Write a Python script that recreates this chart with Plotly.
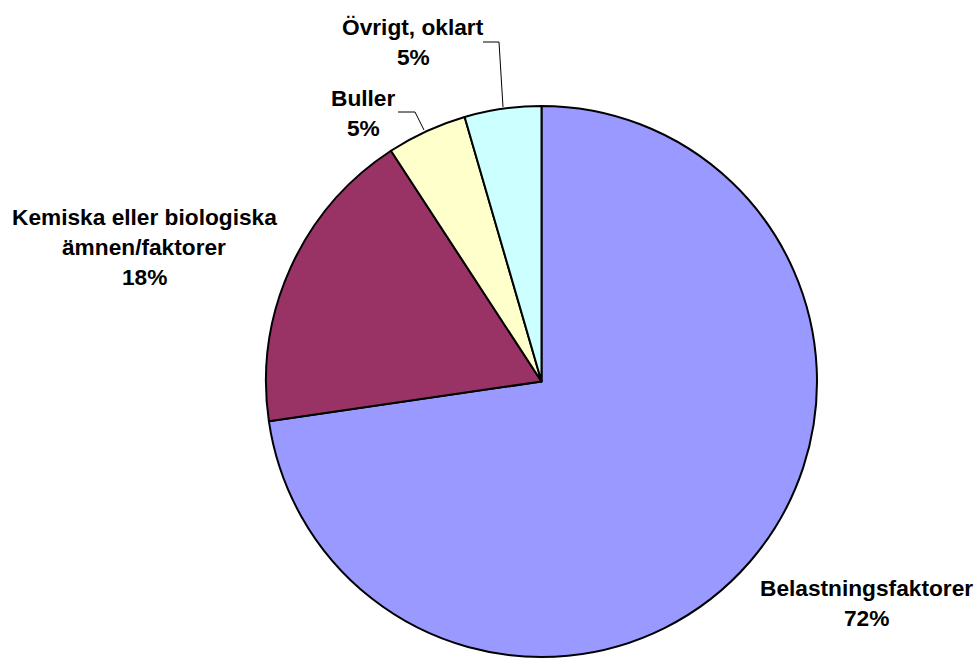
import plotly.graph_objects as go

W, H = 978, 659

# Data (slice order clockwise from 12 o'clock)
categories = ["Belastningsfaktorer", "Kemiska eller biologiska ämnen/faktorer", "Buller", "Övrigt, oklart"]
values = [72.7, 18.1, 4.7, 4.5]          # angular shares
pct_labels = ["72%", "18%", "5%", "5%"]  # labels as printed
colors = ["#9999FF", "#993366", "#FFFFCC", "#CCFFFF"]

# Label text lines per slice
label_lines = [
    ["Belastningsfaktorer", pct_labels[0]],
    ["Kemiska eller biologiska", "ämnen/faktorer", pct_labels[1]],
    ["Buller", pct_labels[2]],
    ["Övrigt, oklart", pct_labels[3]],
]
# label anchor (center x px, first-line center y px)
label_pos = [(866, 588), (144, 217), (363, 98), (413, 27)]
LINE_STEP = 30

def px(x):
    return x / W

def py(y):
    return 1 - y / H

fig = go.Figure(go.Pie(
    labels=categories,
    values=values,
    sort=False,
    direction="clockwise",
    rotation=0,
    marker=dict(colors=colors, line=dict(color="black", width=2)),
    textinfo="none",
    hoverinfo="label+percent",
    domain=dict(x=[266 / W, 817 / W], y=[1 - 657 / H, 1 - 106 / H]),
    showlegend=False,
))

annotations = []
for lines, (cx, cy) in zip(label_lines, label_pos):
    for i, t in enumerate(lines):
        annotations.append(dict(
            x=px(cx), y=py(cy + i * LINE_STEP), xref="paper", yref="paper",
            text="<b>%s</b>" % t, showarrow=False, xanchor="center", yanchor="middle",
            font=dict(family="Liberation Sans, Arial, sans-serif", size=22.7, color="black"),
        ))

# leader lines
leaders = [
    [(398, 112), (415, 112), (424, 130)],   # Buller
    [(483, 42), (499, 42), (503, 107)],     # Övrigt
]
shapes = []
for pts in leaders:
    for (x0, y0), (x1, y1) in zip(pts[:-1], pts[1:]):
        shapes.append(dict(type="line", xref="paper", yref="paper",
                           x0=px(x0), y0=py(y0), x1=px(x1), y1=py(y1),
                           line=dict(color="black", width=1)))

fig.update_layout(
    width=W, height=H,
    margin=dict(l=0, r=0, t=0, b=0),
    paper_bgcolor="white", plot_bgcolor="white",
    annotations=annotations, shapes=shapes,
)

fig.write_html("out.html", config={"displayModeBar": False},
               post_script="document.body.style.margin='0';")
